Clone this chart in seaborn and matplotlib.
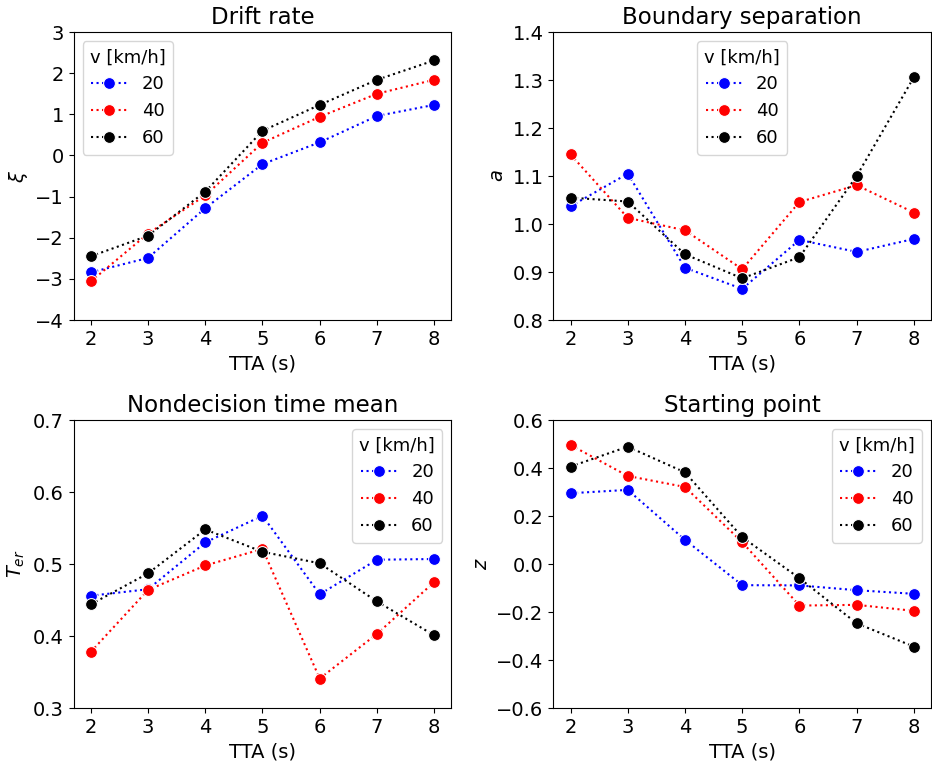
import pandas as pd
import seaborn as sns
import matplotlib.pyplot as plt

tta = [2, 3, 4, 5, 6, 7, 8]
speeds = [20, 40, 60]

drift_20 = [-2.84, -2.49, -1.28, -0.21, 0.32, 0.96, 1.23]
drift_40 = [-3.06, -1.90, -0.97, 0.31, 0.94, 1.50, 1.84]
drift_60 = [-2.45, -1.95, -0.88, 0.60, 1.23, 1.84, 2.31]

bound_20 = [1.037, 1.105, 0.909, 0.865, 0.967, 0.942, 0.969]
bound_40 = [1.145, 1.013, 0.987, 0.906, 1.046, 1.081, 1.024]
bound_60 = [1.055, 1.047, 0.937, 0.887, 0.931, 1.100, 1.306]

ter_20 = [0.456, 0.465, 0.530, 0.567, 0.458, 0.506, 0.507]
ter_40 = [0.378, 0.464, 0.498, 0.521, 0.341, 0.403, 0.475]
ter_60 = [0.444, 0.487, 0.548, 0.517, 0.501, 0.448, 0.401]

z_20 = [0.295, 0.309, 0.101, -0.088, -0.089, -0.109, -0.124]
z_40 = [0.496, 0.367, 0.321, 0.091, -0.173, -0.170, -0.195]
z_60 = [0.406, 0.489, 0.382, 0.112, -0.059, -0.247, -0.344]

titles = ['Drift rate', 'Boundary separation', 'Nondecision time mean', 'Starting point']
ylabels = [r'$\xi$', r'$a$', r'$T_{er}$', r'$z$']
ylims = [(-4, 3), (0.8, 1.4), (0.3, 0.7), (-0.6, 0.6)]
legend_locs = ['upper left', 'upper center', 'upper right', 'upper right']


def to_long(s20, s40, s60):
    rows = []
    for v, vals in zip(speeds, [s20, s40, s60]):
        for t, y in zip(tta, vals):
            rows.append({'TTA (s)': t, 'value': y, 'v [km/h]': v})
    return pd.DataFrame(rows)


frames = [to_long(drift_20, drift_40, drift_60),
          to_long(bound_20, bound_40, bound_60),
          to_long(ter_20, ter_40, ter_60),
          to_long(z_20, z_40, z_60)]

plt.rcParams['font.family'] = ['DejaVu Sans']
palette = {20: 'blue', 40: 'red', 60: 'black'}

fig, axes = plt.subplots(2, 2, figsize=(9.32, 7.63), dpi=100)
fig.subplots_adjust(left=0.079, right=0.999, top=0.958, bottom=0.072,
                    wspace=0.27, hspace=0.347)

for ax, df, title, ylab, ylim, loc in zip(axes.flat, frames, titles, ylabels, ylims, legend_locs):
    sns.lineplot(data=df, x='TTA (s)', y='value', hue='v [km/h]', palette=palette,
                 marker='o', markersize=8.5, linestyle=':', ax=ax)
    ax.set_title(title, fontsize=16.5)
    ax.set_ylabel(ylab, fontsize=14)
    ax.set_xlabel('TTA (s)', fontsize=14)
    ax.set_ylim(*ylim)
    ax.set_xticks(tta)
    ax.tick_params(labelsize=14)
    ax.legend(title='v [km/h]', loc=loc, fontsize=13, title_fontsize=13)

fig.savefig('out.png', dpi=100)
